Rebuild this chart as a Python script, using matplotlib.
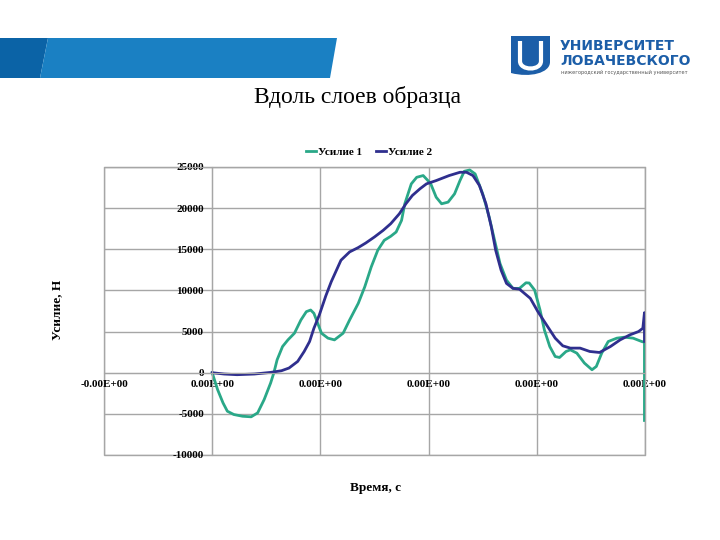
import matplotlib
matplotlib.use("Agg")
import matplotlib.pyplot as plt
from matplotlib.patches import Polygon, PathPatch
from matplotlib.path import Path

plt.rcParams["axes.unicode_minus"] = False

# time axis (arbitrary units, ticks all print as 0.00E+00)
x_ticks = [-1, 0, 1, 2, 3, 4]
x_labels = ["-0.00E+00", "0.00E+00", "0.00E+00", "0.00E+00", "0.00E+00", "0.00E+00"]
y_ticks = [-10000, -5000, 0, 5000, 10000, 15000, 20000, 25000]

# Усилие 1
t1 = [0.0, 0.05, 0.10, 0.14, 0.20, 0.28, 0.36, 0.42, 0.48, 0.54, 0.57, 0.60, 0.65,
      0.70, 0.76, 0.82, 0.87, 0.91, 0.94, 0.975, 1.01, 1.07, 1.13, 1.19, 1.21, 1.27,
      1.35, 1.41, 1.47, 1.53, 1.59, 1.65, 1.70, 1.75, 1.78, 1.81, 1.84, 1.89, 1.95,
      1.99, 2.02, 2.07, 2.12, 2.18, 2.24, 2.29, 2.33, 2.38, 2.43, 2.50, 2.56, 2.61,
      2.66, 2.72, 2.78, 2.84, 2.90, 2.93, 2.98, 3.03, 3.07, 3.12, 3.17, 3.21, 3.27,
      3.31, 3.37, 3.44, 3.51, 3.55, 3.60, 3.66, 3.74, 3.81, 3.89, 3.97, 3.995, 3.995]
f1 = [0, -2060, -3670, -4680, -5080, -5290, -5360, -4880, -3270, -1250, 0, 1570, 3180,
      3990, 4800, 6410, 7420, 7620, 7220, 6010, 4800, 4200, 3990, 4600, 4800, 6410,
      8430, 10440, 12860, 14880, 16090, 16580, 17100, 18510, 20530, 21740, 22950, 23750, 23960,
      23400, 22950, 21330, 20530, 20730, 21740, 23350, 24480, 24640, 24160, 21740, 18910, 16090,
      13270, 11250, 10250, 10250, 10930, 10900, 10040, 7620, 5200, 3180, 1970, 1850, 2580,
      2780, 2380, 1170, 360, 760, 2380, 3790, 4200, 4320, 4200, 3790, 3700, -5800]

# Усилие 2
t2 = [0.0, 0.11, 0.23, 0.39, 0.54, 0.64, 0.71, 0.79, 0.85, 0.90, 0.94, 0.99, 1.05,
      1.10, 1.19, 1.27, 1.35, 1.42, 1.50, 1.58, 1.65, 1.73, 1.79, 1.85, 1.92, 1.98,
      2.07, 2.19, 2.29, 2.35, 2.41, 2.47, 2.53, 2.58, 2.62, 2.67, 2.72, 2.78, 2.84,
      2.94, 3.01, 3.09, 3.17, 3.24, 3.31, 3.40, 3.49, 3.58, 3.68, 3.77, 3.86, 3.94,
      3.98, 3.995, 3.995]
f2 = [0, -160, -240, -160, 40, 240, 570, 1370, 2580, 3790, 5400, 7020, 9340,
      11050, 13670, 14680, 15210, 15770, 16500, 17300, 18110, 19320, 20530, 21540, 22350, 22950,
      23350, 23960, 24360, 24360, 23960, 22750, 20530, 17700, 14880, 12460, 10850, 10250, 10150,
      9040, 7420, 5810, 4200, 3270, 2990, 2990, 2580, 2460, 3180, 3990, 4600, 5000,
      5400, 7300, 3800]

serif = "Liberation Serif"
grid_c = "#a6a6a6"

fig = plt.figure(figsize=(7.2, 5.4), dpi=100)

# slide decoration
deco = fig.add_axes([0, 0, 1, 1])
deco.set_xlim(0, 720)
deco.set_ylim(540, 0)
deco.axis("off")
deco.add_patch(Polygon([(0, 38), (48, 38), (40, 78), (0, 78)], closed=True,
                       facecolor="#0b63a6", edgecolor="none"))
deco.add_patch(Polygon([(48, 38), (337, 38), (330, 78), (40, 78)], closed=True,
                       facecolor="#1a80c3", edgecolor="none"))
shield = Path([(511, 36), (550, 36), (550, 62), (550, 73), (530, 78), (511, 73), (511, 62), (511, 36)],
              [Path.MOVETO, Path.LINETO, Path.LINETO, Path.CURVE4, Path.CURVE4, Path.CURVE4,
               Path.LINETO, Path.CLOSEPOLY])
deco.add_patch(PathPatch(shield, facecolor="#1c5ea8", edgecolor="none"))
ucut = Path([(520, 41), (520, 61), (520, 71), (541, 71), (541, 61), (541, 41)],
            [Path.MOVETO, Path.LINETO, Path.CURVE4, Path.CURVE4, Path.CURVE4, Path.LINETO])
deco.add_patch(PathPatch(ucut, facecolor="none", edgecolor="white", linewidth=3.0))
deco.text(560, 46, "УНИВЕРСИТЕТ", fontsize=10, fontweight="bold", color="#1c5ea8",
          va="center", ha="left", family="DejaVu Sans")
deco.text(560, 61, "ЛОБАЧЕВСКОГО", fontsize=10, fontweight="bold", color="#1c5ea8",
          va="center", ha="left", family="DejaVu Sans")
deco.text(561, 72, "нижегородский государственный университет", fontsize=3.6,
          color="#555555", va="center", ha="left")
deco.text(357, 97, "Вдоль слоев образца", fontsize=17, family=serif,
          ha="center", va="center", color="black")

# chart
ax = fig.add_axes([104 / 720, 1 - 455 / 540, 541 / 720, 288 / 540])
ax.patch.set_edgecolor(grid_c)
ax.patch.set_linewidth(1.0)
ax.plot(t1, f1, color="#2aa888", lw=2.0, label="Усилие 1", solid_joinstyle="round")
ax.plot(t2, f2, color="#2f2f8e", lw=2.0, label="Усилие 2", solid_joinstyle="round")

ax.set_xlim(-1, 4)
ax.set_ylim(-10000, 25000)
ax.set_xticks(x_ticks)
ax.set_xticklabels(x_labels)
ax.set_yticks(y_ticks)
ax.grid(True, color=grid_c, lw=1.0)
for gl in ax.get_xgridlines() + ax.get_ygridlines():
    gl.set_clip_on(False)
ax.set_axisbelow(True)

for s in ["top", "right"]:
    ax.spines[s].set_color(grid_c)
ax.spines["left"].set_position(("data", 0))
ax.spines["bottom"].set_position(("data", 0))
ax.spines["left"].set_color(grid_c)
ax.spines["bottom"].set_color(grid_c)
ax.tick_params(length=0, labelsize=8)
ax.tick_params(axis="x", pad=5)
ax.tick_params(axis="y", pad=6)
for lab in ax.get_xticklabels() + ax.get_yticklabels():
    lab.set_family(serif)
    lab.set_fontweight("bold")

leg = ax.legend(loc="lower center", bbox_to_anchor=(0.49, 1.0), ncol=2, frameon=False,
                prop={"family": serif, "weight": "bold", "size": 8},
                handlelength=0.9, handletextpad=0.2, columnspacing=1.2)

fig.text(375 / 720, 1 - 488 / 540, "Время, с", family=serif, fontweight="bold",
         fontsize=9.5, ha="center", va="center")
fig.text(57 / 720, 1 - 310 / 540, "Усилие, Н", family=serif, fontweight="bold",
         fontsize=9.5, ha="center", va="center", rotation=90)

fig.savefig("out.png", dpi=100)
